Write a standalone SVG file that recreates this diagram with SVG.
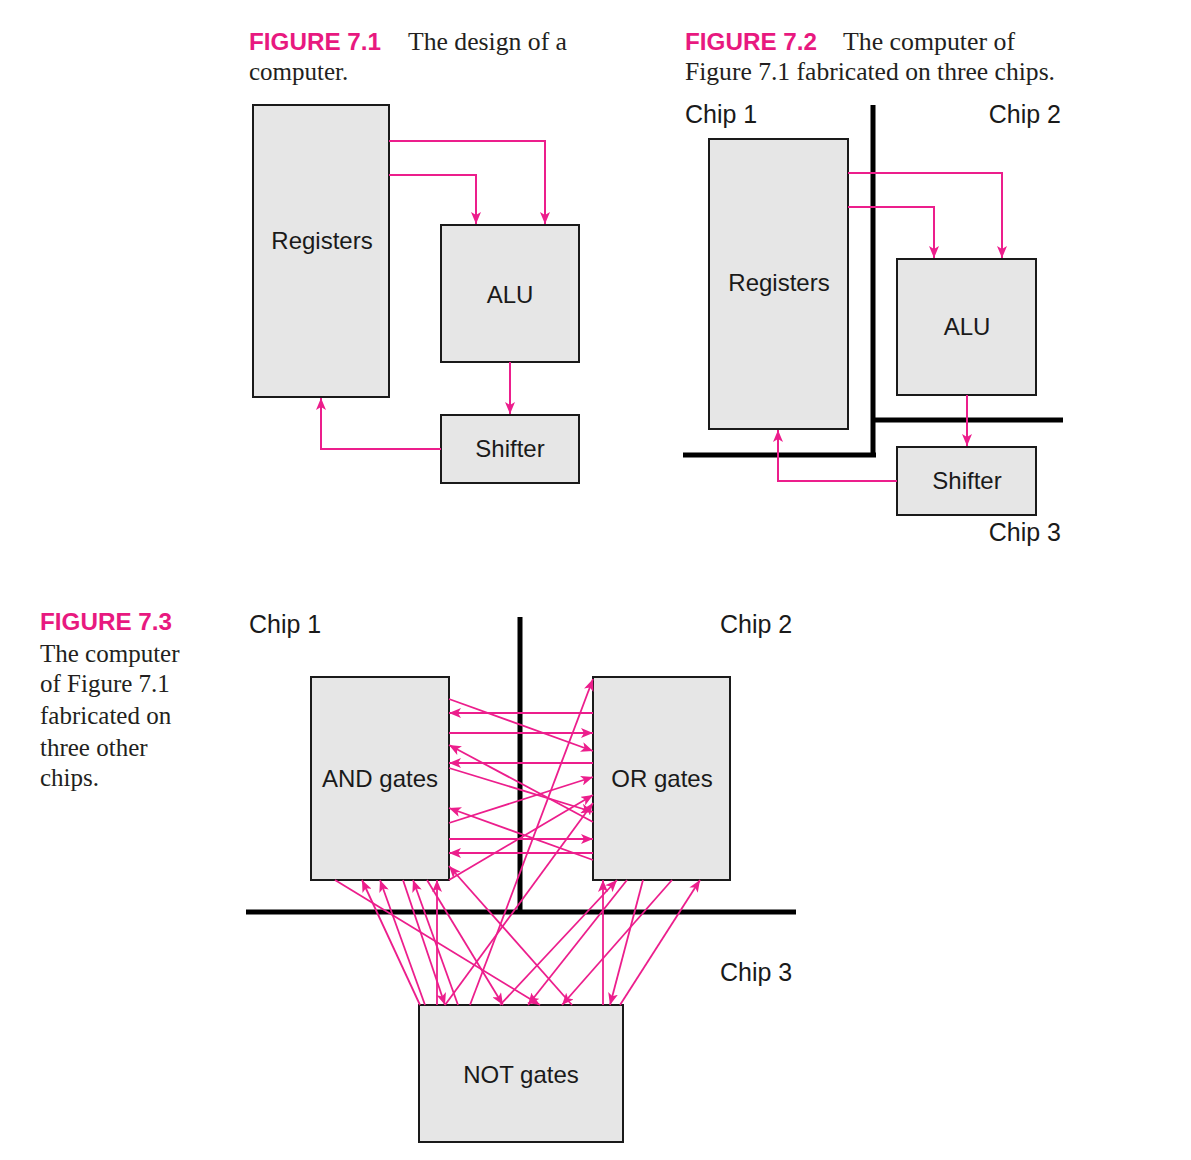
<svg xmlns="http://www.w3.org/2000/svg" width="1191" height="1160" viewBox="0 0 1191 1160">
<style>
.bg{fill:#ffffff}
.box{fill:#e6e6e6;stroke:#1a1a1a;stroke-width:2}
.lbl{font-family:"Liberation Sans","Open Sans",Arial,sans-serif;font-size:24px;fill:#1a1a1a;text-anchor:middle}
.chip{font-family:"Liberation Sans","Open Sans",Arial,sans-serif;font-size:25px;fill:#1a1a1a}
.fig{font-family:"Liberation Sans","Open Sans",Arial,sans-serif;font-size:23px;font-weight:bold;fill:#e8197f}
.cap{font-family:"Liberation Serif","Times New Roman",serif;font-size:25px;fill:#231f20}
.wire{fill:none;stroke:#ec1e8c;stroke-width:2;marker-end:url(#ah)}
.w3{fill:none;stroke:#ec1e8c;stroke-width:1.8;marker-end:url(#ah)}
.bound{fill:none;stroke:#000000;stroke-width:5}
</style>
<defs>
<marker id="ah" viewBox="0 0 12 10" refX="12" refY="5" markerWidth="12" markerHeight="10" orient="auto" markerUnits="userSpaceOnUse">
<path d="M0,0 L12,5 L0,10 L3,5 z" fill="#ec1e8c"/>
</marker>
</defs>
<rect class="bg" x="0" y="0" width="1191" height="1160"/>

<!-- Captions -->
<g id="captions">
<text class="fig" x="249" y="50" textLength="132" lengthAdjust="spacingAndGlyphs">FIGURE 7.1</text>
<text class="cap" x="408" y="50" textLength="159" lengthAdjust="spacingAndGlyphs">The design of a</text>
<text class="cap" x="249" y="80">computer.</text>
<text class="fig" x="685" y="50" textLength="132" lengthAdjust="spacingAndGlyphs">FIGURE 7.2</text>
<text class="cap" x="843" y="50" textLength="172" lengthAdjust="spacingAndGlyphs">The computer of</text>
<text class="cap" x="685" y="80" textLength="370" lengthAdjust="spacingAndGlyphs">Figure 7.1 fabricated on three chips.</text>
<text class="fig" x="40" y="630" textLength="132" lengthAdjust="spacingAndGlyphs">FIGURE 7.3</text>
<text class="cap" x="40" y="662">The computer</text>
<text class="cap" x="40" y="692">of Figure 7.1</text>
<text class="cap" x="40" y="724">fabricated on</text>
<text class="cap" x="40" y="756">three other</text>
<text class="cap" x="40" y="786">chips.</text>
</g>

<!-- Chip labels -->
<g id="chip-labels">
<text class="chip" x="685" y="123">Chip 1</text>
<text class="chip" x="1061" y="123" text-anchor="end">Chip 2</text>
<text class="chip" x="1061" y="541" text-anchor="end">Chip 3</text>
<text class="chip" x="249" y="633">Chip 1</text>
<text class="chip" x="720" y="633">Chip 2</text>
<text class="chip" x="720" y="981">Chip 3</text>
</g>

<!-- Chip boundaries -->
<g id="chip-boundaries">
<path class="bound" d="M873,105 V455 M683,455 H876 M873,420 H1063"/>
<path class="bound" d="M520,617 V912 M246,912 H796"/>
</g>

<!-- Figure 7.1 nodes -->
<g id="f1-registers"><rect class="box" x="253" y="105" width="136" height="292"/><text class="lbl" x="322" y="249">Registers</text></g>
<g id="f1-alu"><rect class="box" x="441" y="225" width="138" height="137"/><text class="lbl" x="510" y="303">ALU</text></g>
<g id="f1-shifter"><rect class="box" x="441" y="415" width="138" height="68"/><text class="lbl" x="510" y="457">Shifter</text></g>

<!-- Figure 7.2 nodes -->
<g id="f2-registers"><rect class="box" x="709" y="139" width="139" height="290"/><text class="lbl" x="779" y="291">Registers</text></g>
<g id="f2-alu"><rect class="box" x="897" y="259" width="139" height="136"/><text class="lbl" x="967" y="335">ALU</text></g>
<g id="f2-shifter"><rect class="box" x="897" y="447" width="139" height="68"/><text class="lbl" x="967" y="489">Shifter</text></g>

<!-- Figure 7.3 nodes -->
<g id="f3-and"><rect class="box" x="311" y="677" width="138" height="203"/><text class="lbl" x="380" y="787">AND gates</text></g>
<g id="f3-or"><rect class="box" x="593" y="677" width="137" height="203"/><text class="lbl" x="662" y="787">OR gates</text></g>
<g id="f3-not"><rect class="box" x="419" y="1005" width="204" height="137"/><text class="lbl" x="521" y="1083">NOT gates</text></g>

<!-- Connectors -->
<g id="connectors">
<!-- Figure 7.1 -->
<path class="wire" d="M389,141 H545 V224"/>
<path class="wire" d="M389,175 H476 V224"/>
<path class="wire" d="M510,362 V414"/>
<path class="wire" d="M441,449 H321 V398"/>
<!-- Figure 7.2 -->
<path class="wire" d="M848,173 H1002 V258"/>
<path class="wire" d="M848,207 H934 V258"/>
<path class="wire" d="M967,395 V446"/>
<path class="wire" d="M897,481 H778 V430"/>
<!-- Figure 7.3: AND <-> OR -->
<path class="w3" d="M449,699 L593,751"/>
<path class="w3" d="M593,713 L449,713"/>
<path class="w3" d="M449,733 L593,733"/>
<path class="w3" d="M593,763 L449,763"/>
<path class="w3" d="M593,822 L449,745"/>
<path class="w3" d="M449,768 L593,812"/>
<path class="w3" d="M449,823 L593,777"/>
<path class="w3" d="M449,880 L593,795"/>
<path class="w3" d="M593,860 L449,808"/>
<path class="w3" d="M449,839 L593,839"/>
<path class="w3" d="M593,853 L449,853"/>
<!-- Figure 7.3: AND <-> NOT -->
<path class="w3" d="M335,880 L540,1005"/>
<path class="w3" d="M420,1005 L362,880"/>
<path class="w3" d="M425,1005 L380,880"/>
<path class="w3" d="M403,880 L445,1005"/>
<path class="w3" d="M458,1005 L413,880"/>
<path class="w3" d="M427,880 L503,1005"/>
<path class="w3" d="M437,1005 L437,880"/>
<path class="w3" d="M572,1005 L449,866"/>
<!-- Figure 7.3: OR <-> NOT -->
<path class="w3" d="M470,1005 L593,679"/>
<path class="w3" d="M445,1005 L593,803"/>
<path class="w3" d="M603,1005 L603,880"/>
<path class="w3" d="M500,1005 L617,880"/>
<path class="w3" d="M627,880 L528,1005"/>
<path class="w3" d="M643,880 L610,1005"/>
<path class="w3" d="M672,880 L562,1005"/>
<path class="w3" d="M620,1005 L700,880"/>
</g>
</svg>
